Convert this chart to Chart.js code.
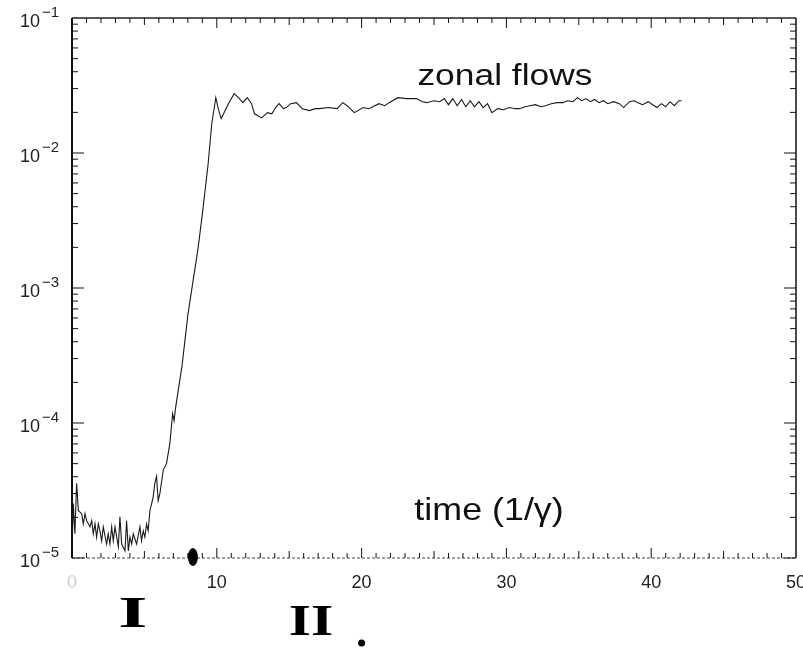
<!DOCTYPE html>
<html>
<head>
<meta charset="utf-8">
<script src="https://cdn.jsdelivr.net/npm/chart.js@4.4.1/dist/chart.umd.min.js"></script>
<style>
  html, body { margin: 0; padding: 0; background: #fff; }
  #wrap { width: 803px; height: 651px; }
</style>
</head>
<body>
<div id="wrap"><canvas id="zonalChart" width="803" height="651"></canvas></div>
<script>
// time in units of 1/gamma
const times = [
  0.0, 0.09, 0.2, 0.32, 0.44, 0.67, 0.78, 0.9, 1.01, 1.24,
  1.36, 1.47, 1.59, 1.7, 1.82, 1.93, 2.05, 2.16, 2.39, 2.5,
  2.62, 2.74, 2.85, 2.97, 3.2, 3.31, 3.43, 3.66, 3.77, 3.89,
  4.0, 4.12, 4.23, 4.46, 4.69, 4.8, 4.92, 5.03, 5.15, 5.26,
  5.38, 5.5, 5.61, 5.72, 5.84, 5.95, 6.07, 6.3, 6.53, 6.76,
  6.95, 7.05, 7.15, 7.6, 8.0, 8.35, 8.7, 9.0, 9.4, 9.65,
  9.93, 10.1, 10.3, 10.5, 10.8, 11.2, 11.5, 11.8, 12.1, 12.4,
  12.6, 13.1, 13.5, 13.8, 14.1, 14.3, 14.6, 14.8, 15.1, 15.5,
  15.9, 16.4, 16.8, 17.1, 17.7, 18.3, 18.7, 19.0, 19.5, 20.1,
  20.5, 21.2, 21.6, 21.9, 22.5, 23.1, 23.8, 24.2, 24.5, 25.0,
  25.4, 25.7, 26.0, 26.3, 26.6, 26.9, 27.2, 27.5, 27.8, 28.1,
  28.4, 28.7, 29.0, 29.4, 29.8, 30.2, 30.6, 30.9, 31.3, 31.6,
  32.0, 32.4, 32.7, 33.1, 33.5, 33.9, 34.2, 34.6, 34.9, 35.2,
  35.5, 35.8, 36.1, 36.4, 36.7, 37.0, 37.4, 37.8, 38.1, 38.5,
  38.8, 39.1, 39.4, 39.8, 40.1, 40.4, 40.7, 41.0, 41.3, 41.6,
  41.9, 42.1
];

// zonal flow energy
const zonalFlow = [
  1.13e-5, 2.53e-5, 1.51e-5, 3.57e-5, 2.24e-5, 2.13e-5, 1.79e-5, 2.13e-5, 1.89e-5, 1.70e-5,
  1.89e-5, 1.51e-5, 1.79e-5, 1.43e-5, 1.79e-5, 1.59e-5, 1.34e-5, 1.70e-5, 1.27e-5, 1.51e-5,
  1.27e-5, 1.70e-5, 1.34e-5, 1.70e-5, 1.21e-5, 2.02e-5, 1.27e-5, 1.13e-5, 1.89e-5, 1.13e-5,
  1.43e-5, 1.27e-5, 1.51e-5, 1.27e-5, 1.70e-5, 1.34e-5, 1.59e-5, 1.43e-5, 1.79e-5, 1.59e-5,
  2.24e-5, 2.53e-5, 2.85e-5, 3.57e-5, 4.02e-5, 2.66e-5, 3.01e-5, 4.46e-5, 5.02e-5, 7.10e-5,
  1.17e-4, 1.04e-4, 1.29e-4, 2.66e-4, 6.29e-4, 1.11e-3, 1.95e-3, 3.51e-3, 8.28e-3, 0.0164,
  0.0257, 0.0213, 0.0180, 0.0199, 0.0232, 0.0275, 0.0257, 0.0236, 0.0257, 0.0232,
  0.0195, 0.0182, 0.0199, 0.0195, 0.0220, 0.0232, 0.0213, 0.0217, 0.0232, 0.0236,
  0.0213, 0.0206, 0.0213, 0.0213, 0.0217, 0.0213, 0.0236, 0.0224, 0.0199, 0.0217,
  0.0213, 0.0232, 0.0224, 0.0236, 0.0257, 0.0253, 0.0253, 0.0240, 0.0236, 0.0244,
  0.0240, 0.0253, 0.0228, 0.0253, 0.0224, 0.0249, 0.0220, 0.0244, 0.0220, 0.0240,
  0.0217, 0.0232, 0.0199, 0.0213, 0.0209, 0.0217, 0.0213, 0.0213, 0.0220, 0.0224,
  0.0228, 0.0220, 0.0224, 0.0232, 0.0236, 0.0236, 0.0244, 0.0240, 0.0257, 0.0244,
  0.0253, 0.0240, 0.0249, 0.0236, 0.0244, 0.0232, 0.0240, 0.0232, 0.0217, 0.0240,
  0.0244, 0.0236, 0.0228, 0.0240, 0.0228, 0.0217, 0.0232, 0.0220, 0.0240, 0.0224,
  0.0244, 0.0244
];

const xTickLabels = [0, 10, 20, 30, 40, 50];
const yDecades = [1e-5, 1e-4, 1e-3, 1e-2, 1e-1];
const yExponents = ['\u22125', '\u22124', '\u22123', '\u22122', '\u22121'];

const seriesLabel = 'zonal flows';
const xTitle = 'time (1/\u03b3)';

// hand marks below the axis: phase numerals and the phase boundary
const phaseNames = ['I', 'II'];
const phaseCenters = [4.2, 16.5];
const phaseBoundary = 8.35;

function stretchText(ctx, text, cx, baseline, sx) {
    ctx.save();
    ctx.translate(cx, baseline);
    ctx.scale(sx, 1);
    ctx.textAlign = 'center';
    ctx.fillText(text, 0, 0);
    ctx.restore();
}

const figureDecor = {
    id: 'figureDecor',
    afterDraw(chart) {
        const ctx = chart.ctx;
        const a = chart.chartArea;
        const xs = chart.scales.x;
        const ys = chart.scales.y;
        ctx.save();

        // frame
        ctx.strokeStyle = '#111';
        ctx.lineWidth = 2;
        ctx.beginPath(); ctx.moveTo(a.left, a.top); ctx.lineTo(a.left, a.bottom); ctx.stroke();
        ctx.lineWidth = 1.5;
        ctx.beginPath(); ctx.moveTo(a.right, a.top); ctx.lineTo(a.right, a.bottom); ctx.stroke();
        ctx.lineWidth = 1.3;
        ctx.strokeStyle = '#222';
        ctx.beginPath(); ctx.moveTo(a.left, a.top); ctx.lineTo(a.right, a.top); ctx.stroke();
        ctx.setLineDash([3, 2]);
        ctx.strokeStyle = '#444';
        ctx.lineWidth = 1;
        ctx.beginPath(); ctx.moveTo(a.left, a.bottom); ctx.lineTo(a.right, a.bottom); ctx.stroke();
        ctx.setLineDash([]);

        // x ticks, every unit, pointing inward
        ctx.strokeStyle = '#111';
        ctx.lineWidth = 1;
        for (let t = 1; t < 50; t++) {
            const px = xs.getPixelForValue(t);
            const len = t % 10 === 0 ? 10 : (t % 5 === 0 ? 7 : 5);
            ctx.beginPath();
            ctx.moveTo(px, a.bottom); ctx.lineTo(px, a.bottom - len);
            ctx.moveTo(px, a.top); ctx.lineTo(px, a.top + len);
            ctx.stroke();
        }

        // y ticks, log minor ticks too
        for (let d = 0; d < yDecades.length - 1; d++) {
            for (let m = 1; m <= 9; m++) {
                const v = yDecades[d] * m;
                const py = ys.getPixelForValue(v);
                const len = m === 1 ? 12 : 6;
                ctx.beginPath();
                ctx.moveTo(a.left, py); ctx.lineTo(a.left + len, py);
                ctx.moveTo(a.right, py); ctx.lineTo(a.right - len, py);
                ctx.stroke();
            }
        }

        // x tick labels
        ctx.font = '18px "Liberation Sans", Arial, sans-serif';
        ctx.textAlign = 'center';
        ctx.textBaseline = 'alphabetic';
        xTickLabels.forEach(function (v) {
            ctx.fillStyle = v === 0 ? '#d0d0d0' : '#222';
            ctx.fillText(String(v), xs.getPixelForValue(v), a.bottom + 30);
        });

        // y tick labels: 10 with superscript exponent
        ctx.fillStyle = '#222';
        yDecades.forEach(function (v, i) {
            const py = ys.getPixelForValue(v);
            ctx.font = '18px "Liberation Sans", Arial, sans-serif';
            ctx.textAlign = 'right';
            ctx.fillText('10', a.left - 32, py + 9);
            ctx.font = '15px "Liberation Sans", Arial, sans-serif';
            ctx.textAlign = 'left';
            ctx.fillText(yExponents[i], a.left - 30, py - 1);
        });

        // curve label and axis title inside the frame
        ctx.fillStyle = '#111';
        ctx.font = '30px "Liberation Sans", Arial, sans-serif';
        stretchText(ctx, seriesLabel, xs.getPixelForValue(29.9), a.top + 67, 1.18);
        ctx.font = '32px "Liberation Sans", Arial, sans-serif';
        stretchText(ctx, xTitle, xs.getPixelForValue(28.8), a.bottom - 38, 1.12);

        // phase numerals
        ctx.fillStyle = '#000';
        ctx.font = 'bold 44px "Liberation Serif", "DejaVu Serif", serif';
        stretchText(ctx, phaseNames[0], xs.getPixelForValue(phaseCenters[0]), a.bottom + 69, 1.7);
        stretchText(ctx, phaseNames[1], xs.getPixelForValue(phaseCenters[1]), a.bottom + 77, 1.3);
        ctx.beginPath();
        ctx.arc(xs.getPixelForValue(20.0), a.bottom + 85, 3.5, 0, Math.PI * 2);
        ctx.fill();

        // phase boundary blob on the axis
        ctx.beginPath();
        ctx.ellipse(xs.getPixelForValue(phaseBoundary), a.bottom - 1, 5, 9, 0, 0, Math.PI * 2);
        ctx.fill();

        ctx.restore();
    }
};

var ctx = document.getElementById('zonalChart');

var zonalChart = new Chart(ctx, {
    type: 'line',
    data: {
        datasets: [
            {
                label: seriesLabel,
                data: times.map(function (t, i) { return { x: t, y: zonalFlow[i] }; }),
                borderColor: '#1a1a1a',
                borderWidth: 1.1,
                pointRadius: 0,
                tension: 0,
                fill: false
            }
        ]
    },
    options: {
        responsive: false,
        animation: false,
        layout: { padding: { left: 0, right: 7, top: 18, bottom: 0 } },
        plugins: {
            legend: { display: false },
            tooltip: { enabled: false }
        },
        scales: {
            x: {
                type: 'linear',
                min: 0,
                max: 50,
                grid: { display: false },
                border: { display: false },
                ticks: { display: false },
                afterFit: function (scale) { scale.height = 93; }
            },
            y: {
                type: 'logarithmic',
                min: 1e-5,
                max: 1e-1,
                grid: { display: false },
                border: { display: false },
                ticks: { display: false },
                afterFit: function (scale) { scale.width = 72; }
            }
        }
    },
    plugins: [figureDecor]
});
</script>
</body>
</html>
